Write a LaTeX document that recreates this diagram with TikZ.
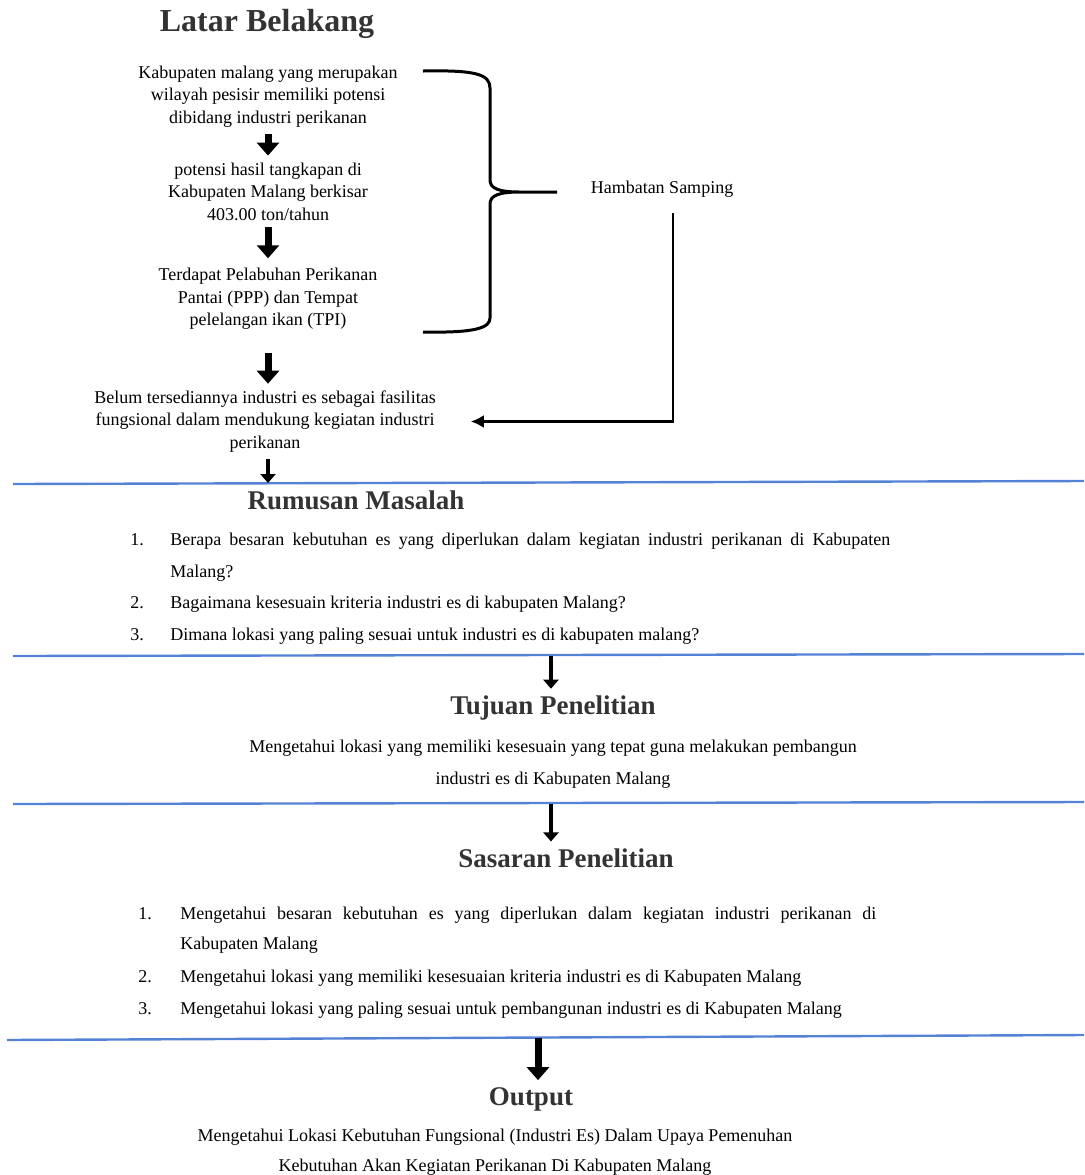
\documentclass[tikz,border=0pt]{standalone}
\usepackage{fontspec}
\setmainfont{Liberation Serif}
\usepackage{tikz}
\usetikzlibrary{arrows.meta}
\definecolor{RULE}{rgb}{0.33, 0.51, 0.83}
\definecolor{HEAD}{rgb}{0.2, 0.2, 0.2}
\newcommand\boxsize{\fontsize{9}{11.25}\selectfont}
\newcommand\listsize{\fontsize{9}{16}\selectfont}
\newcommand\outsize{\fontsize{9}{15}\selectfont}
\newcommand\headsize{\fontsize{13.5}{16}\selectfont\bfseries}
\hyphenpenalty=10000
\exhyphenpenalty=10000
\tolerance=9999

\begin{document}
\begin{tikzpicture}[x=0.5pt,y=-0.5pt,
  txt/.style={align=center,font=\boxsize},
  hd/.style={font=\headsize,text=HEAD},
  item/.style={anchor=west,align=justify,inner sep=0pt,font=\listsize},
  num/.style={inner sep=0pt,font=\listsize,text height=6.1pt,text depth=2pt},
  blk/.style={line width=3.5pt,-{Triangle[width=11pt,length=6.5pt]}},
  sml/.style={line width=2.4pt,-{Triangle[width=7.5pt,length=4.5pt]}},
  side/.style={line width=1.4pt,-{Latex[width=6.5pt,length=6.5pt]}},
  brace/.style={line width=1.5pt},
  rule/.style={RULE,line width=1.2pt}]
\useasboundingbox (0,0) rectangle (1084,1175);

\node[font=\fontsize{16}{19}\selectfont\bfseries,text=HEAD] (LB) at (267,24) {Latar Belakang};
\node[txt] (B1) at (268,96.5) {Kabupaten malang yang merupakan\\wilayah pesisir memiliki potensi\\dibidang industri perikanan};
\node[txt] (B2) at (268,191.5) {potensi hasil tangkapan di\\Kabupaten Malang berkisar\\403.00 ton/tahun};
\node[txt] (B3) at (268,299) {Terdapat Pelabuhan Perikanan\\Pantai (PPP) dan Tempat\\pelelangan ikan (TPI)};
\node[txt] (B4) at (265,421.5) {Belum tersediannya industri es sebagai fasilitas\\fungsional dalam mendukung kegiatan industri\\perikanan};
\node[txt] (HS) at (662,189) {Hambatan Samping};
\draw[blk] (B1) -- (B2);
\draw[blk,shorten >=1.5pt] (B2) -- (B3);
\draw[blk,shorten <=8pt] (B3.south) -- (B3.south |- B4.north);

\draw[brace] (423,71) .. controls (475,70) and (490,74) .. (490,88) -- (490,180)
  .. controls (490,189) and (500,192) .. (520,192)
  .. controls (500,192) and (490,195) .. (490,204) -- (490,318)
  .. controls (490,328) and (475,333) .. (423,332)
  (520,192) -- (557,192);
\coordinate (HSd) at (673,213);
\draw[side,shorten >=14pt] (HSd) |- (B4.east);

\draw[rule] (13,484) -- (1084,481);
\coordinate (L1a) at (268,483);
\draw[sml] (L1a |- B4.south) -- (L1a);

\node[hd] (RM) at (356,500) {Rumusan Masalah};
\node[num] (R1n) at (137,541) {1.};
\node[item,text width=360pt] (R1) at (170,557) {Berapa besaran kebutuhan es yang diperlukan dalam kegiatan industri perikanan di Kabupaten Malang?};
\node[num] (R2n) at (137,604) {2.};
\node[item] (R2) at (170,604) {Bagaimana kesesuain kriteria industri es di kabupaten Malang?};
\node[num] (R3n) at (137,636) {3.};
\node[item] (R3) at (170,636) {Dimana lokasi yang paling sesuai untuk industri es di kabupaten malang?};

\draw[rule] (13,656) -- (1084,654);
\coordinate (L2a) at (551,656);
\node[hd] (TP) at (553,708) {Tujuan Penelitian};
\draw[sml] (L2a) -- (L2a |- TP.north);
\node[align=center,font=\listsize] (T1) at (553,764) {Mengetahui lokasi yang memiliki kesesuain yang tepat guna melakukan pembangun\\industri es di Kabupaten Malang};

\draw[rule] (13,804) -- (1084,802);
\coordinate (L3a) at (551,804);
\node[hd] (SP) at (566,858) {Sasaran Penelitian};
\draw[sml] (L3a) -- (L3a |- SP.north);
\node[num] (S1n) at (145,915) {1.};
\node[item,text width=348pt,font=\outsize] (S1) at (180,930) {Mengetahui besaran kebutuhan es yang diperlukan dalam kegiatan industri perikanan di Kabupaten Malang};
\node[num] (S2n) at (145,978) {2.};
\node[item] (S2) at (180,978) {Mengetahui lokasi yang memiliki kesesuaian kriteria industri es di Kabupaten Malang};
\node[num] (S3n) at (145,1010) {3.};
\node[item] (S3) at (180,1010) {Mengetahui lokasi yang paling sesuai untuk pembangunan industri es di Kabupaten Malang};

\draw[rule] (7,1040) -- (1084,1035);
\coordinate (L4a) at (538,1038);
\node[hd] (OP) at (531,1099) {Output};
\draw[blk] (L4a) -- (L4a |- OP.north);
\node[align=center,font=\outsize] (O1) at (495,1152) {Mengetahui Lokasi Kebutuhan Fungsional (Industri Es) Dalam Upaya Pemenuhan\\Kebutuhan Akan Kegiatan Perikanan Di Kabupaten Malang};
\end{tikzpicture}
\end{document}
